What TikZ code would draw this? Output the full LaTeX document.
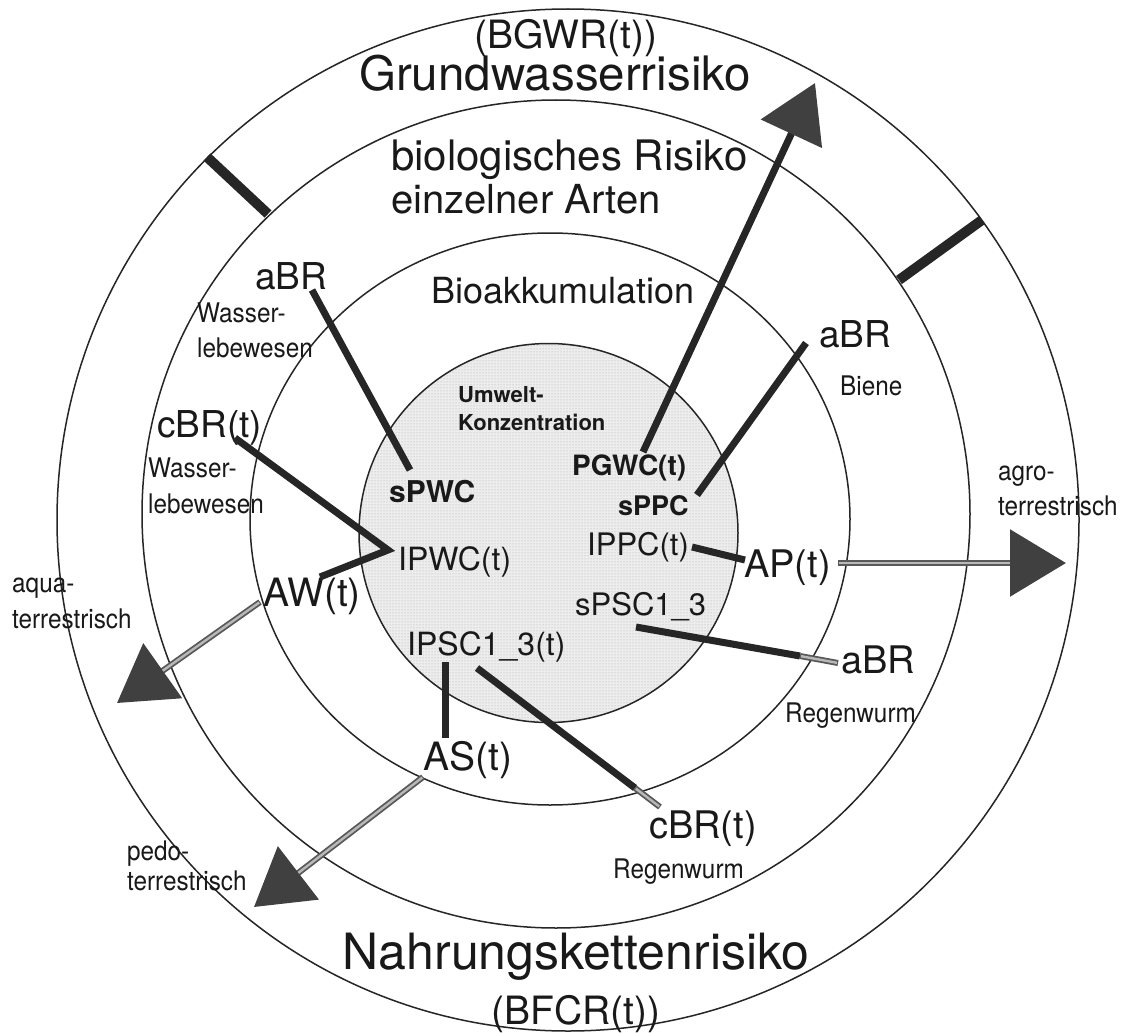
\documentclass[tikz,border=0pt]{standalone}
\usepackage{fontspec}
\setmainfont{TeX Gyre Heros}
\newfontfamily\narrowfont[FakeStretch=0.9]{TeX Gyre Heros}
\usetikzlibrary{arrows.meta,patterns}
\newcommand{\fsz}[1]{\fontsize{#1pt}{#1pt}\selectfont}
\begin{document}
\begin{tikzpicture}[x=1pt,y=-1pt,
  ring/.style={draw=black!85, line width=1.5pt},
  conn/.style={draw=black!85, line width=7pt},
  grayedge/.style={draw=black!65, line width=6pt},
  graycore/.style={draw=black!28, line width=2.4pt},
  bar/.style={draw=black!85, line width=10pt},
  bigtip/.style={-{Triangle[length=56pt,width=66pt,color=black!75,fill=black!75]}},
  lbl/.style={inner sep=0pt, anchor=base west, text=black!90},
  smalllbl/.style={lbl, font=\narrowfont\fsz{27}},
  boldlbl/.style={lbl, font=\bfseries\fsz{#1}},
  plainlbl/.style={lbl, font=\fsz{#1}}
]
\useasboundingbox (0,0) rectangle (1136,1033);
\fill[white] (0,0) rectangle (1136,1033);

% rings
\fill[black!7] (548.5,533) circle [radius=189.5pt];
\fill[pattern=dots, pattern color=black!35] (548.5,533) circle [radius=189.5pt];
\draw[ring] (568,520) circle [radius=511pt];
\draw[ring] (556,514) circle [radius=414pt];
\draw[ring] (550,519) ellipse [x radius=300pt, y radius=286pt];
\draw[ring] (548.5,533) circle [radius=189.5pt];

% separating bars
\coordinate (barLa) at (207,157); \coordinate (barLb) at (268,214);
\coordinate (barRa) at (899,280); \coordinate (barRb) at (982,220);
\draw[bar] (barLa) -- (barLb);
\draw[bar] (barRa) -- (barRb);

% labels
\node[plainlbl=39, anchor=base] (bgwr) at (566,49) {(BGWR(t))};
\node[plainlbl=47.5, anchor=base] (gwr) at (555,91) {Grundwasserrisiko};
\node[plainlbl=42] (bio1) at (391,170) {biologisches Risiko};
\node[plainlbl=40] (bio2) at (391,213) {einzelner Arten};
\node[plainlbl=36] (bioak) at (431,303) {Bioakkumulation};
\node[plainlbl=37] (aBRw) at (255,289) {aBR};
\node[smalllbl] (wla) at (197,322) {Wasser-};
\node[smalllbl] (wlb) at (197,357) {lebewesen};
\node[boldlbl=22] (umw) at (458,402) {Umwelt-};
\node[boldlbl=22] (konz) at (458,430) {Konzentration};
\node[plainlbl=37] (cBRw) at (157,437) {cBR(t)};
\node[smalllbl] (wlc) at (148,477) {Wasser-};
\node[smalllbl] (wld) at (148,513) {lebewesen};
\node[plainlbl=37] (aBRb) at (819,347) {aBR};
\node[smalllbl] (biene) at (840,395) {Biene};
\node[boldlbl=28] (pgwc) at (572,475) {PGWC(t)};
\node[boldlbl=30] (spwc) at (389,502) {sPWC};
\node[boldlbl=27] (sppc) at (618,515) {sPPC};
\node[smalllbl] (agroa) at (998,480) {agro-};
\node[smalllbl] (agrob) at (998,515) {terrestrisch};
\node[plainlbl=31] (ippc) at (587,555) {IPPC(t)};
\node[plainlbl=32] (ipwc) at (398,570) {IPWC(t)};
\node[plainlbl=38] (ap) at (744,577) {AP(t)};
\node[smalllbl] (aquaa) at (12,592) {aqua-};
\node[smalllbl] (aquab) at (12,628) {terrestrisch};
\node[plainlbl=39] (aw) at (263,606) {AW(t)};
\node[plainlbl=31] (spsc) at (575,615) {sPSC1\_3};
\node[plainlbl=32] (ipsc) at (407,655) {IPSC1\_3(t)};
\node[plainlbl=38] (aBRr) at (841,673) {aBR};
\node[smalllbl] (rwa) at (785,722) {Regenwurm};
\node[plainlbl=39] (as) at (423,770) {AS(t)};
\node[plainlbl=38] (cBRr) at (649,838) {cBR(t)};
\node[smalllbl] (rwb) at (613,878) {Regenwurm};
\node[smalllbl] (pedoa) at (127,860) {pedo-};
\node[smalllbl] (pedob) at (127,890) {terrestrisch};
\node[plainlbl=50, anchor=base] (nkr) at (576,969) {Nahrungskettenrisiko};
\node[plainlbl=39, anchor=base] (bfcr) at (576,1024) {(BFCR(t))};

% connector end points
\coordinate (aBRw-e) at (312,290);  \coordinate (spwc-e) at (410,470);
\coordinate (cBRw-e) at (235,438);  \coordinate (ipwc-e) at (388,550);
\coordinate (aw-e) at (320,577);
\coordinate (aBRb-e) at (806,343);  \coordinate (sppc-e) at (697,495);
\coordinate (pgwc-e) at (643,452);  \coordinate (gwtip) at (815,83);
\coordinate (ippc-e) at (692,547);  \coordinate (ap-w) at (745,560);
\coordinate (spsc-e) at (636,627);  \coordinate (spsc-m) at (800,656);
\coordinate (aBRr-e) at (838,663);
\coordinate (ipsc-a) at (445,662);  \coordinate (as-n) at (445,738);
\coordinate (ipsc-b) at (477,668);  \coordinate (cbr-m) at (635,788);
\coordinate (cBRr-e) at (660,807);
\coordinate (ap-e) at (838,563);    \coordinate (agrotip) at (1066,563);
\coordinate (aw-s) at (260,602);    \coordinate (aquatip) at (117,703);
\coordinate (as-s) at (423,777);    \coordinate (pedotip) at (254,907);

% connectors
\draw[conn] (aBRw-e) -- (spwc-e);
\draw[conn, line join=miter] (cBRw-e) -- (ipwc-e) -- (aw-e);
\draw[conn] (aBRb-e) -- (sppc-e);
\draw[conn] (ippc-e) -- (ap-w);
\draw[conn] (spsc-e) -- (spsc-m);
\draw[grayedge] (spsc-m) -- (aBRr-e);
\draw[graycore, shorten <=1pt, shorten >=1pt] (spsc-m) -- (aBRr-e);
\draw[conn] (ipsc-a) -- (as-n);
\draw[conn] (ipsc-b) -- (cbr-m);
\draw[grayedge] (cbr-m) -- (cBRr-e);
\draw[graycore, shorten <=1pt, shorten >=1pt] (cbr-m) -- (cBRr-e);
\draw[conn, bigtip] (pgwc-e) -- (gwtip);
\draw[grayedge, bigtip] (ap-e) -- (agrotip);
\draw[graycore, shorten <=1pt, shorten >=56pt] (ap-e) -- (agrotip);
\draw[grayedge, bigtip] (aw-s) -- (aquatip);
\draw[graycore, shorten <=1pt, shorten >=56pt] (aw-s) -- (aquatip);
\draw[grayedge, bigtip] (as-s) -- (pedotip);
\draw[graycore, shorten <=1pt, shorten >=56pt] (as-s) -- (pedotip);
\end{tikzpicture}
\end{document}
